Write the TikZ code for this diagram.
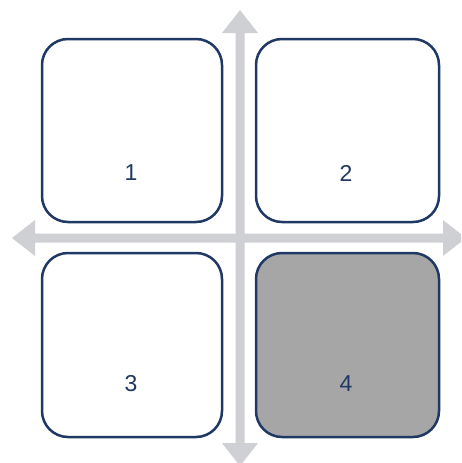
\documentclass[tikz,border=0pt]{standalone}
\usepackage{fontspec}
\setmainfont{Liberation Sans}
\definecolor{navy}{HTML}{1F3864}
\definecolor{arrowgray}{HTML}{CFD0D4}
\definecolor{boxgray}{HTML}{A6A6A6}
\begin{document}
\begin{tikzpicture}[x=1pt,y=-1pt,
  quad/.style={draw=navy,line width=2.5pt,rounded corners=26pt,fill=white},
  quadlabel/.style={text=navy,font=\fontsize{23}{27}\selectfont,inner sep=0pt}]
\useasboundingbox (0,0) rectangle (461,463);
\clip (0,0) rectangle (461,463);
% arrows
\fill[arrowgray] (12,238) -- (35,220) -- (35,233.5) -- (443,233.5) -- (443,220) -- (466,238)
  -- (443,256) -- (443,242.5) -- (35,242.5) -- (35,256) -- cycle;
\fill[arrowgray] (240,10) -- (258,33) -- (244.5,33) -- (244.5,443) -- (258,443) -- (240,466)
  -- (222,443) -- (235.5,443) -- (235.5,33) -- (222,33) -- cycle;
% boxes
\draw[quad] (42,39) rectangle (222,222);
\draw[quad] (256,39) rectangle (439,222);
\draw[quad] (42,253) rectangle (222,437);
\draw[quad,fill=boxgray] (256,253) rectangle (439,437);
\node[quadlabel] (l1) at (131,173) {1};
\node[quadlabel] (l2) at (346,173) {2};
\node[quadlabel] (l3) at (131,384) {3};
\node[quadlabel] (l4) at (346,384) {4};
\end{tikzpicture}
\end{document}
